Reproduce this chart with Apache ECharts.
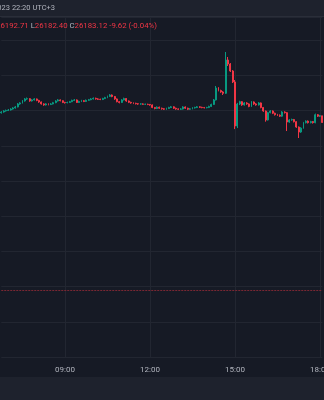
<!DOCTYPE html>
<html>
<head>
<meta charset="utf-8">
<script src="https://cdn.jsdelivr.net/npm/echarts@6/dist/echarts.min.js"></script>
<style>
html,body{margin:0;padding:0;background:#161a25;}
#c{width:324px;height:400px;}
</style>
</head>
<body>
<div id="c"></div>
<script>
const times = [
"06:45","06:50","06:55",
"07:00","07:05","07:10","07:15","07:20","07:25","07:30","07:35","07:40","07:45","07:50","07:55",
"08:00","08:05","08:10","08:15","08:20","08:25","08:30","08:35","08:40","08:45","08:50","08:55",
"09:00","09:05","09:10","09:15","09:20","09:25","09:30","09:35","09:40","09:45","09:50","09:55",
"10:00","10:05","10:10","10:15","10:20","10:25","10:30","10:35","10:40","10:45","10:50","10:55",
"11:00","11:05","11:10","11:15","11:20","11:25","11:30","11:35","11:40","11:45","11:50","11:55",
"12:00","12:05","12:10","12:15","12:20","12:25","12:30","12:35","12:40","12:45","12:50","12:55",
"13:00","13:05","13:10","13:15","13:20","13:25","13:30","13:35","13:40","13:45","13:50","13:55",
"14:00","14:05","14:10","14:15","14:20","14:25","14:30","14:35","14:40","14:45","14:50","14:55",
"15:00","15:05","15:10","15:15","15:20","15:25","15:30","15:35","15:40","15:45","15:50","15:55",
"16:00","16:05","16:10","16:15","16:20","16:25","16:30","16:35","16:40","16:45","16:50","16:55",
"17:00","17:05","17:10","17:15","17:20","17:25","17:30","17:35","17:40","17:45","17:50","17:55",
"18:00","18:05"
];
const timeTicks = ["09:00","12:00","15:00","18:00"];

const opens = [
26197.0,26198.0,26199.5,26200.2,26200.9,26202.3,26203.8,26205.2,26209.5,26210.9,
26213.7,26216.6,26217.0,26213.7,26215.2,26216.6,26214.5,26212.3,26209.5,26208.1,
26209.5,26208.7,26209.5,26211.3,26213.7,26215.2,26214.1,26211.6,26211.3,26211.6,
26212.7,26214.5,26215.2,26211.6,26213.0,26214.1,26213.0,26214.7,26215.5,26216.6,
26217.5,26216.6,26216.1,26215.8,26217.1,26218.5,26220.1,26222.2,26220.1,26216.6,
26212.7,26211.6,26215.2,26217.2,26213.7,26211.8,26210.9,26210.4,26209.7,26209.4,
26209.5,26209.0,26209.0,26208.7,26208.1,26204.4,26203.0,26204.9,26203.4,26202.6,
26202.0,26203.0,26204.4,26205.4,26203.4,26202.3,26202.0,26202.3,26205.2,26203.4,
26201.9,26202.6,26203.8,26204.4,26205.4,26204.7,26204.3,26204.1,26204.4,26205.9,
26208.7,26215.2,26232.1,26228.6,26226.5,26224.6,26271.9,26266.2,26256.3,26240.7,
26178.2,26209.4,26212.7,26208.1,26210.9,26209.5,26205.9,26212.3,26209.5,26208.1,
26210.9,26204.4,26199.5,26186.7,26197.1,26199.5,26196.3,26194.2,26193.5,26192.1,
26198.0,26197.1,26183.8,26186.7,26187.4,26184.3,26176.7,26169.6,26175.2,26182.9,
26185.1,26182.9,26184.4,26182.9,26194.2,26192.1,26192.71
];
const closes = [
26198.0,26199.5,26200.2,26200.9,26202.3,26203.8,26205.2,26209.5,26210.9,26213.7,
26216.6,26217.0,26213.7,26215.2,26216.6,26214.5,26212.3,26209.5,26208.1,26209.5,
26208.7,26209.5,26211.3,26213.7,26215.2,26214.1,26211.6,26211.3,26211.6,26212.7,
26214.5,26215.2,26211.6,26213.0,26214.1,26213.0,26214.7,26215.5,26216.6,26217.5,
26216.6,26216.1,26215.8,26217.1,26218.5,26220.1,26222.2,26220.1,26216.6,26212.7,
26211.6,26215.2,26217.2,26213.7,26211.8,26210.9,26210.4,26209.7,26209.4,26209.5,
26209.0,26209.0,26208.7,26208.1,26204.4,26203.0,26204.9,26203.4,26202.6,26202.0,
26203.0,26204.4,26205.4,26203.4,26202.3,26202.0,26202.3,26205.2,26203.4,26201.9,
26202.6,26203.8,26204.4,26205.4,26204.7,26204.3,26204.1,26204.4,26205.9,26208.7,
26215.2,26232.1,26228.6,26226.5,26224.6,26271.9,26266.2,26256.3,26240.7,26178.2,
26209.4,26212.7,26208.1,26210.9,26209.5,26205.9,26212.3,26209.5,26208.1,26210.9,
26204.4,26199.5,26186.7,26197.1,26199.5,26196.3,26194.2,26193.5,26192.1,26198.0,
26197.1,26183.8,26186.7,26187.4,26184.3,26176.7,26169.6,26175.2,26182.9,26185.1,
26182.9,26184.4,26182.9,26194.2,26192.1,26192.74,26183.12
];
const lows = [
26195.8,26197.1,26198.6,26199.4,26200.1,26201.5,26202.9,26204.6,26208.3,26210.1,
26212.8,26215.3,26212.6,26212.9,26214.4,26213.4,26211.1,26208.6,26206.9,26207.2,
26207.5,26207.9,26208.8,26210.5,26213.0,26213.2,26210.7,26210.0,26210.4,26210.9,
26212.0,26213.6,26210.8,26210.9,26212.2,26212.1,26212.3,26213.9,26214.8,26215.9,
26215.7,26215.2,26214.9,26215.0,26216.4,26217.7,26219.4,26219.0,26215.4,26211.8,
26210.3,26210.9,26214.5,26212.6,26210.7,26209.8,26209.3,26208.8,26208.3,26208.4,
26208.1,26208.0,26207.8,26207.0,26203.5,26201.9,26202.2,26202.5,26201.4,26200.9,
26201.1,26202.2,26203.6,26202.3,26201.3,26200.8,26201.0,26201.6,26202.5,26200.8,
26201.0,26201.8,26203.0,26203.6,26203.7,26203.4,26203.1,26203.3,26203.6,26205.1,
26208.0,26214.4,26227.4,26225.3,26222.2,26223.6,26263.4,26254.9,26239.2,26173.8,
26175.2,26207.9,26206.8,26207.2,26208.3,26204.8,26205.1,26208.2,26207.0,26207.2,
26203.3,26198.3,26184.3,26185.9,26196.2,26195.1,26193.0,26192.4,26190.9,26191.2,
26195.9,26171.0,26182.7,26185.6,26183.2,26175.5,26161.1,26168.4,26174.3,26181.8,
26181.7,26181.9,26181.6,26182.0,26190.9,26190.9,26182.40
];
const highs = [
26199.2,26200.6,26201.5,26202.3,26203.4,26204.9,26206.6,26210.8,26212.0,26214.9,
26217.9,26218.6,26217.8,26216.3,26217.7,26217.2,26215.3,26213.0,26210.4,26210.6,
26210.3,26210.7,26212.4,26214.8,26216.4,26216.0,26214.8,26212.5,26212.7,26213.8,
26215.6,26216.5,26215.9,26214.1,26215.3,26215.0,26215.8,26216.6,26217.7,26218.7,
26218.4,26217.6,26217.0,26218.2,26219.6,26221.3,26223.5,26223.0,26220.8,26217.3,
26213.6,26216.3,26218.4,26217.9,26214.4,26212.6,26211.7,26211.2,26210.6,26210.5,
26210.3,26209.9,26209.8,26209.5,26208.8,26205.2,26206.0,26205.7,26204.2,26203.5,
26204.1,26205.5,26206.6,26206.2,26204.2,26203.1,26203.4,26206.3,26206.0,26204.2,
26203.7,26204.9,26205.5,26206.5,26206.2,26205.5,26205.2,26205.4,26207.0,26209.9,
26216.5,26235.0,26233.3,26229.8,26227.7,26283.3,26276.2,26267.5,26257.6,26243.5,
26211.0,26214.0,26213.6,26212.1,26212.0,26210.3,26213.5,26213.1,26210.6,26212.1,
26211.6,26205.2,26200.2,26198.3,26200.7,26200.3,26197.1,26195.4,26194.6,26199.3,
26199.0,26197.9,26187.9,26188.6,26188.2,26185.0,26177.5,26176.4,26184.0,26186.2,
26186.0,26185.5,26185.3,26195.8,26195.2,26193.9,26192.71
];
const refLine = 25945;
const headerDate = "Oct 27, 2023 22:20 UTC+3";
const legendO = "26192.71", legendH = "26192.71", legendL = "26182.40", legendC = "26183.12";
const legendChg = "-9.62 (-0.04%)";

const ohlc = opens.map((o, i) => [o, closes[i], lows[i], highs[i]]);

const UP = '#089981', DOWN = '#f23645';
const FONT = 'Roboto, "Noto Sans", sans-serif';
const chart = echarts.init(document.getElementById('c'), null, {renderer: 'canvas'});
chart.setOption({
  backgroundColor: '#161a25',
  animation: false,
  grid: {left: 1.25, right: 1.65, top: 17, bottom: 43, containLabel: false, outerBoundsMode: 'none'},
  xAxis: {
    type: 'category',
    data: times,
    boundaryGap: false,
    axisLine: {show: false},
    axisTick: {show: false},
    axisLabel: {
      interval: (idx, val) => timeTicks.indexOf(val) >= 0,
      color: '#b2b5be', fontSize: 8, fontFamily: FONT, margin: 8.5,
      hideOverlap: false
    },
    splitLine: {
      show: true,
      interval: (idx, val) => timeTicks.indexOf(val) >= 0,
      lineStyle: {color: '#222631', width: 1}
    }
  },
  yAxis: {
    type: 'value',
    min: 25850, max: 26333, interval: 50,
    axisLine: {show: false}, axisTick: {show: false}, axisLabel: {show: false},
    splitLine: {show: true, lineStyle: {color: '#222631', width: 1}}
  },
  series: [{
    type: 'candlestick',
    data: ohlc,
    barWidth: '60%',
    itemStyle: {color: UP, color0: DOWN, borderColor: UP, borderColor0: DOWN, borderWidth: 1},
    markLine: {
      silent: true, symbol: 'none', label: {show: false},
      lineStyle: {color: '#7a2733', type: [2, 1], width: 1},
      data: [{yAxis: refLine}]
    }
  }],
  graphic: [
    {type: 'rect', shape: {x: 0, y: 0, width: 324, height: 16}, style: {fill: '#1e222d'}, z: 1},
    {type: 'rect', shape: {x: 0, y: 16, width: 324, height: 1}, style: {fill: '#2a2e39'}, z: 1},
    {type: 'rect', shape: {x: 0, y: 377, width: 324, height: 23}, style: {fill: '#1e222d'}, z: 1},
    {type: 'text', x: 55, y: 8.5, z: 2, style: {
      text: headerDate, fill: '#b2b5be', font: '7.5px ' + FONT, textAlign: 'right', textVerticalAlign: 'middle'
    }},
    {type: 'text', x: 157, y: 26.5, z: 2, style: {
      text: '{l|O}{v|' + legendO + '} {l|H}{v|' + legendH + '} {l|L}{v|' + legendL + '} {l|C}{v|' + legendC + '} {v|' + legendChg + '}',
      textAlign: 'right', textVerticalAlign: 'middle', font: '7.8px ' + FONT,
      rich: {
        l: {fill: '#b2b5be', fontSize: 7.8, fontFamily: FONT},
        v: {fill: DOWN, fontSize: 7.8, fontFamily: FONT}
      }
    }}
  ]
});
</script>
</body>
</html>
